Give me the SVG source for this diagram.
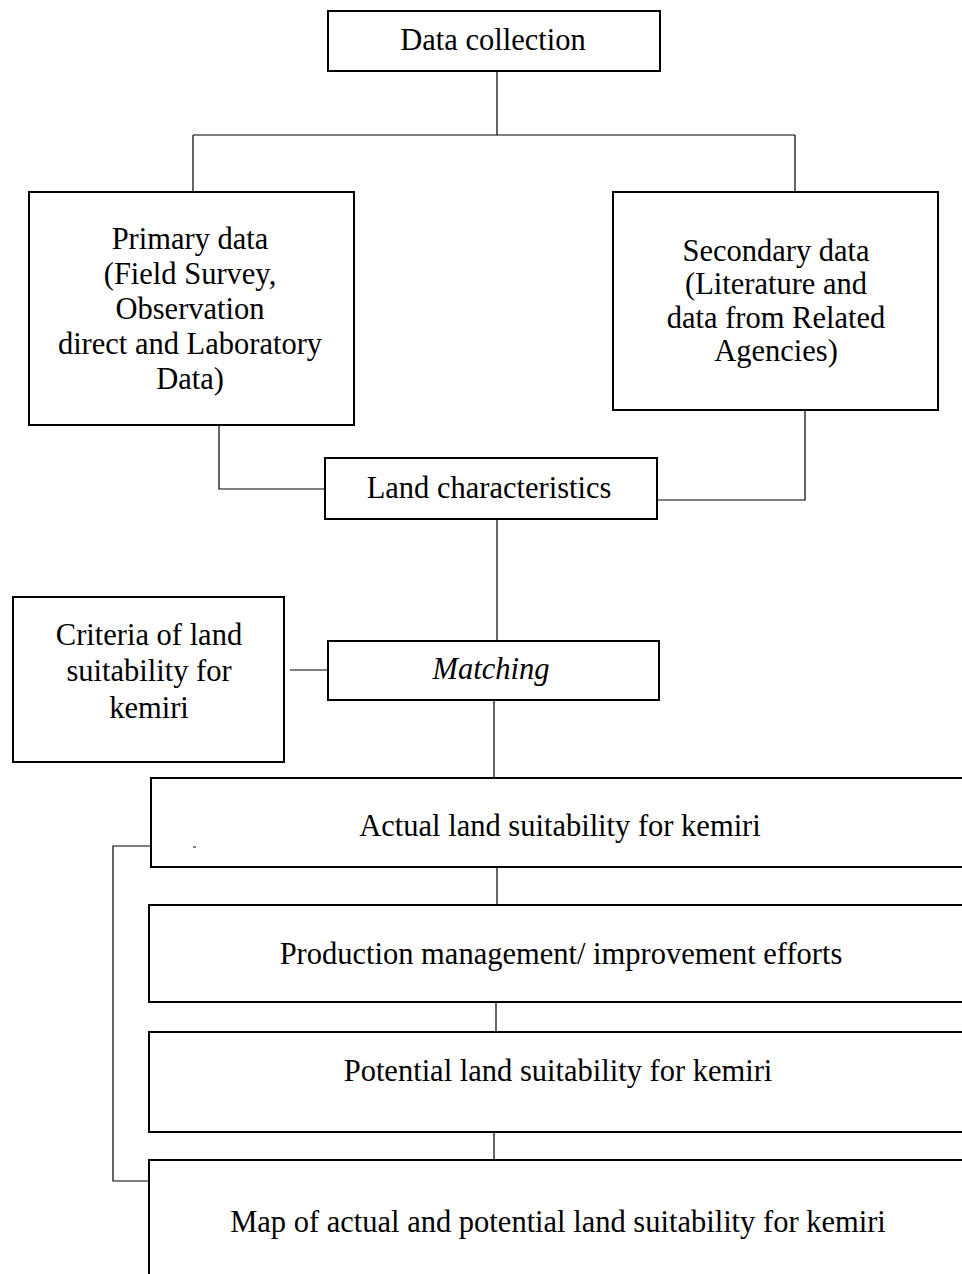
<svg xmlns="http://www.w3.org/2000/svg" width="962" height="1274" viewBox="0 0 962 1274">
<style>
.box{fill:#fff;stroke:#000;stroke-width:2}
.ln{fill:none;stroke:#000;stroke-width:1.2}
</style>
<rect width="962" height="1274" fill="#fff"/>
<g id="connectors">
<path class="ln" d="M497,72 V135 M193,135 H795 M193,135 V192 M795,135 V192"/>
<path class="ln" d="M219,425 V489 H328"/>
<path class="ln" d="M657,500 H805 V410"/>
<path class="ln" d="M497,519 V641"/>
<path class="ln" d="M290,670 H328"/>
<path class="ln" d="M494,700 V778"/>
<path class="ln" d="M497,867 V905"/>
<path class="ln" d="M496,1002 V1032"/>
<path class="ln" d="M494,1132 V1160"/>
<path class="ln" d="M150,846 H113 V1181 H150"/>
</g>
<g font-family="Liberation Serif, Times New Roman, serif" font-size="30.5" fill="#000" text-anchor="middle">
<g id="data-collection"><rect class="box" x="328" y="11" width="332" height="60"/><text x="493" y="50">Data collection</text></g>
<g id="primary"><rect class="box" x="29" y="192" width="325" height="233"/>
<text x="190" y="249">Primary data</text><text x="190" y="284">(Field Survey,</text><text x="190" y="319">Observation</text><text x="190" y="354">direct and Laboratory</text><text x="190" y="389">Data)</text></g>
<g id="secondary"><rect class="box" x="613" y="192" width="325" height="218"/>
<text x="776" y="261">Secondary data</text><text x="776" y="294">(Literature and</text><text x="776" y="328">data from Related</text><text x="776" y="361">Agencies)</text></g>
<g id="land-char"><rect class="box" x="325" y="458" width="332" height="61"/><text x="489" y="498">Land characteristics</text></g>
<g id="criteria"><rect class="box" x="13" y="597" width="271" height="165"/>
<text x="149" y="645">Criteria of land</text><text x="149" y="681">suitability for</text><text x="149" y="718">kemiri</text></g>
<g id="matching"><rect class="box" x="328" y="641" width="331" height="59"/><text x="491" y="679" font-style="italic">Matching</text></g>
<g id="actual"><rect class="box" x="151" y="778" width="830" height="89"/><text x="560" y="836">Actual land suitability for kemiri</text>
<line x1="193" y1="847" x2="196" y2="847" stroke="#000" stroke-width="1"/></g>
<g id="production"><rect class="box" x="149" y="905" width="830" height="97"/><text x="561" y="964">Production management/ improvement efforts</text></g>
<g id="potential"><rect class="box" x="149" y="1032" width="830" height="100"/><text x="558" y="1081">Potential land suitability for kemiri</text></g>
<g id="map"><rect class="box" x="149" y="1160" width="830" height="130"/><text x="558" y="1232">Map of actual and potential land suitability for kemiri</text></g>
</g>
</svg>
